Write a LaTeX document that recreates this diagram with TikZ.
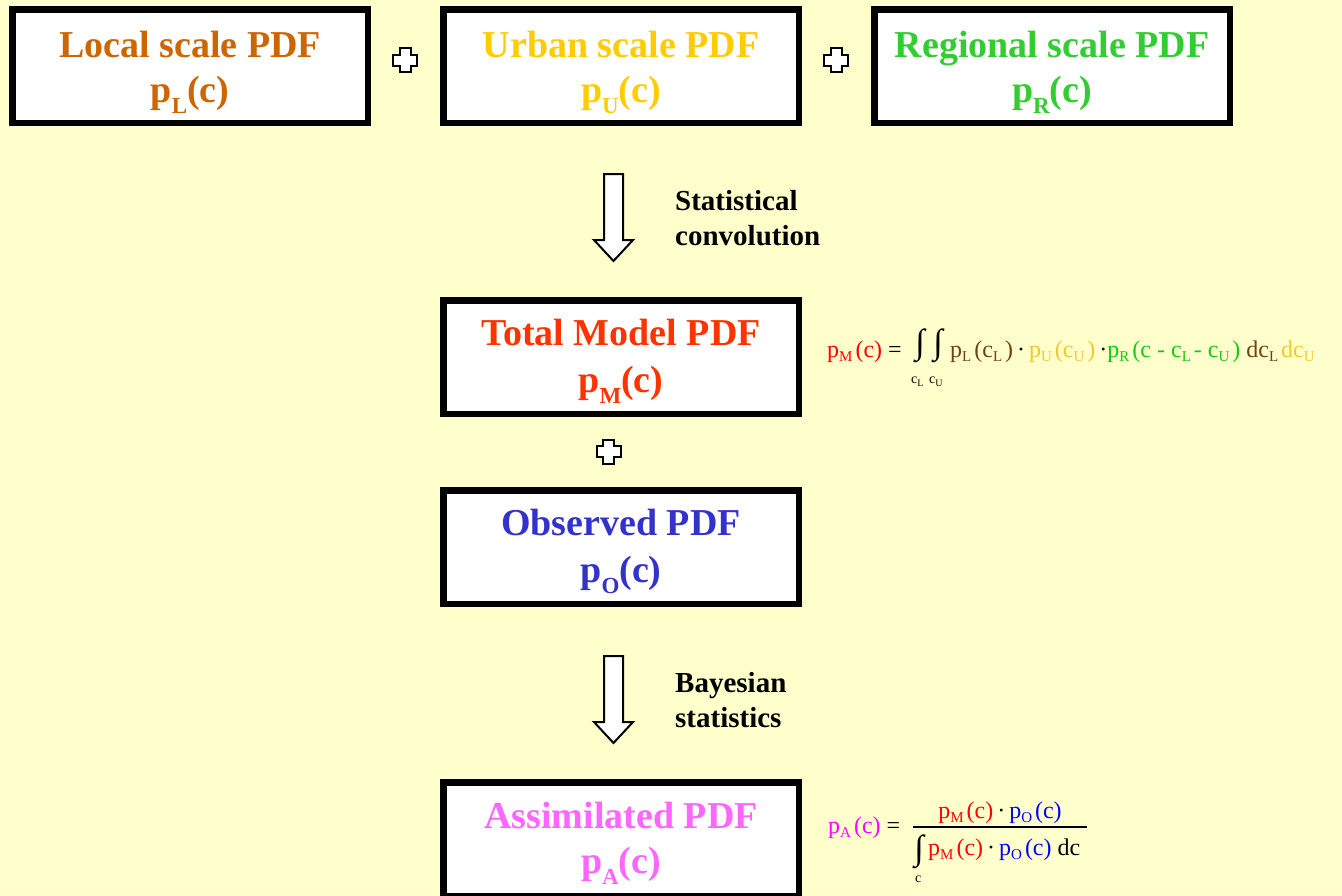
\documentclass[tikz,border=0pt]{standalone}
\usepackage{fontspec}
\setmainfont{Liberation Serif}
\usepackage{graphicx}
\usetikzlibrary{calc}

\definecolor{bgYellow}{HTML}{FFFFCC}
\definecolor{cLocal}{HTML}{CC6600}
\definecolor{cUrban}{HTML}{FFCC00}
\definecolor{cRegional}{HTML}{33CC33}
\definecolor{cTotal}{HTML}{FF3300}
\definecolor{cObs}{HTML}{3333CC}
\definecolor{cAssim}{HTML}{FF66FF}
\definecolor{fRed}{HTML}{FF0000}
\definecolor{fBrown}{HTML}{704010}
\definecolor{fGold}{HTML}{F0C830}
\definecolor{fGreen}{HTML}{11CC11}
\definecolor{fBlue}{HTML}{0000FF}
\definecolor{fMag}{HTML}{FF00FF}

\newcommand\bigsub[1]{\raisebox{-11pt}{\fontsize{23}{23}\selectfont #1}}
\newcommand\frmsub[1]{\raisebox{-4pt}{\fontsize{15}{15}\selectfont #1}\kern3pt}
\newcommand\limsub[1]{\raisebox{-3pt}{\fontsize{10}{10}\selectfont #1}}
\newcommand\myintegral{\resizebox*{!}{34pt}{∫}}

\tikzset{
  pdfbox/.style={draw=black, line width=6.5pt, fill=white, rectangle,
    minimum width=355.5pt, minimum height=113.5pt, inner sep=0pt},
  boxtitle/.style={anchor=base, inner sep=0pt, font=\fontsize{38}{38}\selectfont\bfseries},
  steplabel/.style={anchor=base west, inner sep=0pt, font=\fontsize{29}{29}\selectfont\bfseries},
  formula/.style={anchor=base west, inner sep=0pt, font=\fontsize{24}{24}\selectfont},
  limtext/.style={anchor=base west, inner sep=0pt, font=\fontsize{14}{14}\selectfont},
  intsign/.style={anchor=south, inner sep=0pt, font=\fontsize{24}{24}\selectfont},
  shapeline/.style={draw=black, line width=2pt, fill=white, line join=miter},
  pics/plussign/.style={code={
    \path[shapeline] (-5.5,-12) -- (5.5,-12) -- (5.5,-5.5) -- (12,-5.5) -- (12,5.5)
      -- (5.5,5.5) -- (5.5,12) -- (-5.5,12) -- (-5.5,5.5) -- (-12,5.5) -- (-12,-5.5)
      -- (-5.5,-5.5) -- cycle;}},
  pics/blockarrow/.style={code={
    \path[shapeline] (-9.5,0) -- (9.5,0) -- (9.5,66) -- (19.5,66) -- (0,87)
      -- (-19.5,66) -- (-9.5,66) -- cycle;}}
}

\begin{document}
\begin{tikzpicture}[x=1pt,y=-1pt]
\fill[bgYellow] (0,0) rectangle (1342,895);
\useasboundingbox (0,0) rectangle (1342,895);

% boxes
\node[pdfbox] (L) at (190,66) {};
\node[pdfbox] (U) at (621,66) {};
\node[pdfbox] (R) at (1052,66) {};
\node[pdfbox] (M) at (621,357) {};
\node[pdfbox] (O) at (621,547) {};
\node[pdfbox] (A) at (621,839) {};

% box texts
\node[boxtitle, text=cLocal] (Lt) at ($(L.center)+(0,-9)$) {Local scale PDF};
\node[boxtitle, text=cLocal] (Lp) at ($(L.center)+(0,36)$) {p\bigsub{L}(c)};
\node[boxtitle, text=cUrban] (Ut) at ($(U.center)+(0,-9)$) {Urban scale PDF};
\node[boxtitle, text=cUrban] (Up) at ($(U.center)+(0,36)$) {p\bigsub{U}(c)};
\node[boxtitle, text=cRegional] (Rt) at ($(R.center)+(0,-9)$) {Regional scale PDF};
\node[boxtitle, text=cRegional] (Rp) at ($(R.center)+(0,36)$) {p\bigsub{R}(c)};
\node[boxtitle, text=cTotal] (Mt) at ($(M.center)+(0,-12)$) {Total Model PDF};
\node[boxtitle, text=cTotal] (Mp) at ($(M.center)+(0,35)$) {p\bigsub{M}(c)};
\node[boxtitle, text=cObs] (Ot) at ($(O.center)+(0,-12)$) {Observed PDF};
\node[boxtitle, text=cObs] (Op) at ($(O.center)+(0,35)$) {p\bigsub{O}(c)};
\node[boxtitle, text=cAssim] (At) at ($(A.center)+(0,-11)$) {Assimilated PDF};
\node[boxtitle, text=cAssim] (Ap) at ($(A.center)+(0,34)$) {p\bigsub{A}(c)};

% plus signs
\pic at (405,60) {plussign};
\pic at (836,60) {plussign};
\pic at (608.5,451.5) {plussign};

% block arrows
\coordinate (arr1) at (613.5,174);
\coordinate (arr2) at (613.5,656);
\pic at (arr1) {blockarrow};
\pic at (arr2) {blockarrow};

\node[steplabel] (s1) at (675,210) {Statistical};
\node[steplabel] (s2) at (675,245) {convolution};
\node[steplabel] (b1) at (675,692) {Bayesian};
\node[steplabel] (b2) at (675,727) {statistics};

% formula 1
\node[formula] (f1a) at (827,357) {{\color{fRed}p\frmsub{M}(c)} = };
\node[intsign] (f1i1) at (920,363) {\myintegral};
\node[intsign] (f1i2) at (938,363) {\myintegral};
\node[limtext] (f1l1) at (911,383) {c\limsub{L}};
\node[limtext] (f1l2) at (929,383) {c\limsub{U}};
\node[formula] (f1b) at (950,357) {{\color{fBrown}p\frmsub{L}(c\frmsub{L})}\,·\,{\color{fGold}p\frmsub{U}(c\frmsub{U})}\,·{\color{fGreen}p\frmsub{R}(c - c\frmsub{L} - c\frmsub{U})} {\color{fBrown}dc\frmsub{L}}{\color{fGold}dc\frmsub{U}}};

% formula 2
\node[formula] (f2a) at (828,833) {{\color{fMag}p\frmsub{A}(c)} = };
\node[formula, anchor=base] (f2n) at (1000,818) {{\color{fRed}p\frmsub{M}(c)}\,·\,{\color{fBlue}p\frmsub{O}(c)}};
\coordinate (fracL) at (913,827);
\coordinate (fracR) at (1087,827);
\draw[line width=1.3pt] (fracL) -- (fracR);
\node[intsign] (f2i) at (919,869) {\myintegral};
\node[limtext] (f2l) at (915,882) {c};
\node[formula] (f2d) at (928,855) {{\color{fRed}p\frmsub{M}(c)}\,·\,{\color{fBlue}p\frmsub{O}(c)} dc};
\end{tikzpicture}
\end{document}
